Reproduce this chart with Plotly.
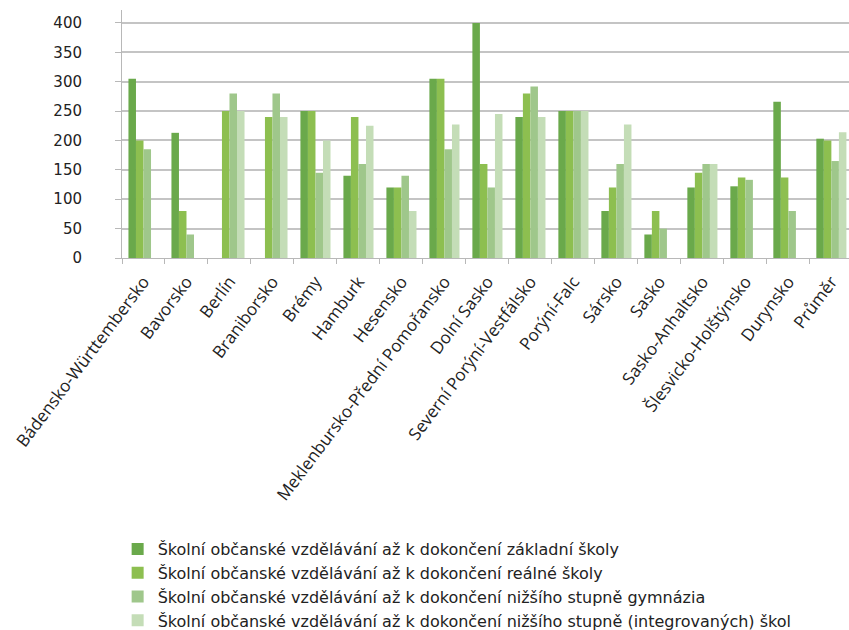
import plotly.graph_objects as go

categories = ["Bádensko-Württembersko", "Bavorsko", "Berlín", "Braniborsko", "Brémy",
              "Hamburk", "Hesensko", "Meklenbursko-Přední Pomořansko", "Dolní Sasko",
              "Severní Porýní-Vestfálsko", "Porýní-Falc", "Sársko", "Sasko",
              "Sasko-Anhaltsko", "Šlesvicko-Holštýnsko", "Durynsko", "Průměr"]

series_names = [
    "Školní občanské vzdělávání až k dokončení základní školy",
    "Školní občanské vzdělávání až k dokončení reálné školy",
    "Školní občanské vzdělávání až k dokončení nižšího stupně gymnázia",
    "Školní občanské vzdělávání až k dokončení nižšího stupně (integrovaných) škol",
]

zakladni = [305, 213, None, None, 250, 140, 120, 305, 400, 240, 250, 80, 40, 120, 122, 266, 203]
realne = [200, 80, 250, 240, 250, 240, 120, 305, 160, 280, 250, 120, 80, 145, 137, 137, 200]
gymnazium = [185, 40, 280, 280, 145, 160, 140, 185, 120, 292, 250, 160, 50, 160, 133, 80, 165]
integrovane = [None, None, 250, 240, 200, 225, 80, 227, 245, 240, 250, 227, None, 160, None, None, 214]

values = [zakladni, realne, gymnazium, integrovane]
colors = ["#6aa94b", "#8dbf50", "#9fc78b", "#c4ddb7"]

fig = go.Figure()
for i, (name, vals, col) in enumerate(zip(series_names, values, colors)):
    fig.add_trace(go.Bar(
        x=categories, y=vals, name=name, marker=dict(color=col, line=dict(width=0)),
        legendgroup=f"g{i}",
    ))

fig.update_layout(
    width=849, height=630,
    margin=dict(l=122, r=0, t=10, b=372, autoexpand=False),
    paper_bgcolor="white", plot_bgcolor="white",
    barmode="group", bargap=0.3, bargroupgap=0,
    showlegend=True,
    legend=dict(
        x=-0.006, xanchor="left", y=-1.105, yanchor="top",
        font=dict(family="DejaVu Sans", size=16, color="#222222"),
        tracegroupgap=0, itemwidth=30, bgcolor="rgba(0,0,0,0)",
    ),
    xaxis=dict(
        type="category", range=[-0.5, 16.41], automargin=False,
        tickangle=-53, tickfont=dict(family="Open Sans", size=17, color="#222222"),
        showline=True, linecolor="#b8b8b8", linewidth=1,
        ticks="outside", tickson="boundaries", ticklen=5, tickcolor="#b8b8b8",
        showgrid=False, ticklabelstandoff=6,
    ),
    yaxis=dict(
        range=[0, 422], tickvals=[0, 50, 100, 150, 200, 250, 300, 350, 400],
        automargin=False,
        tickfont=dict(family="DejaVu Sans", size=15, color="#222222"),
        showline=True, linecolor="#b8b8b8", linewidth=1,
        ticks="outside", ticklen=6, tickcolor="#b8b8b8",
        showgrid=True, gridcolor="#c4c4c4", gridwidth=1.5,
        zeroline=False, ticklabelstandoff=30,
    ),
)

fig.write_html("out.html")
